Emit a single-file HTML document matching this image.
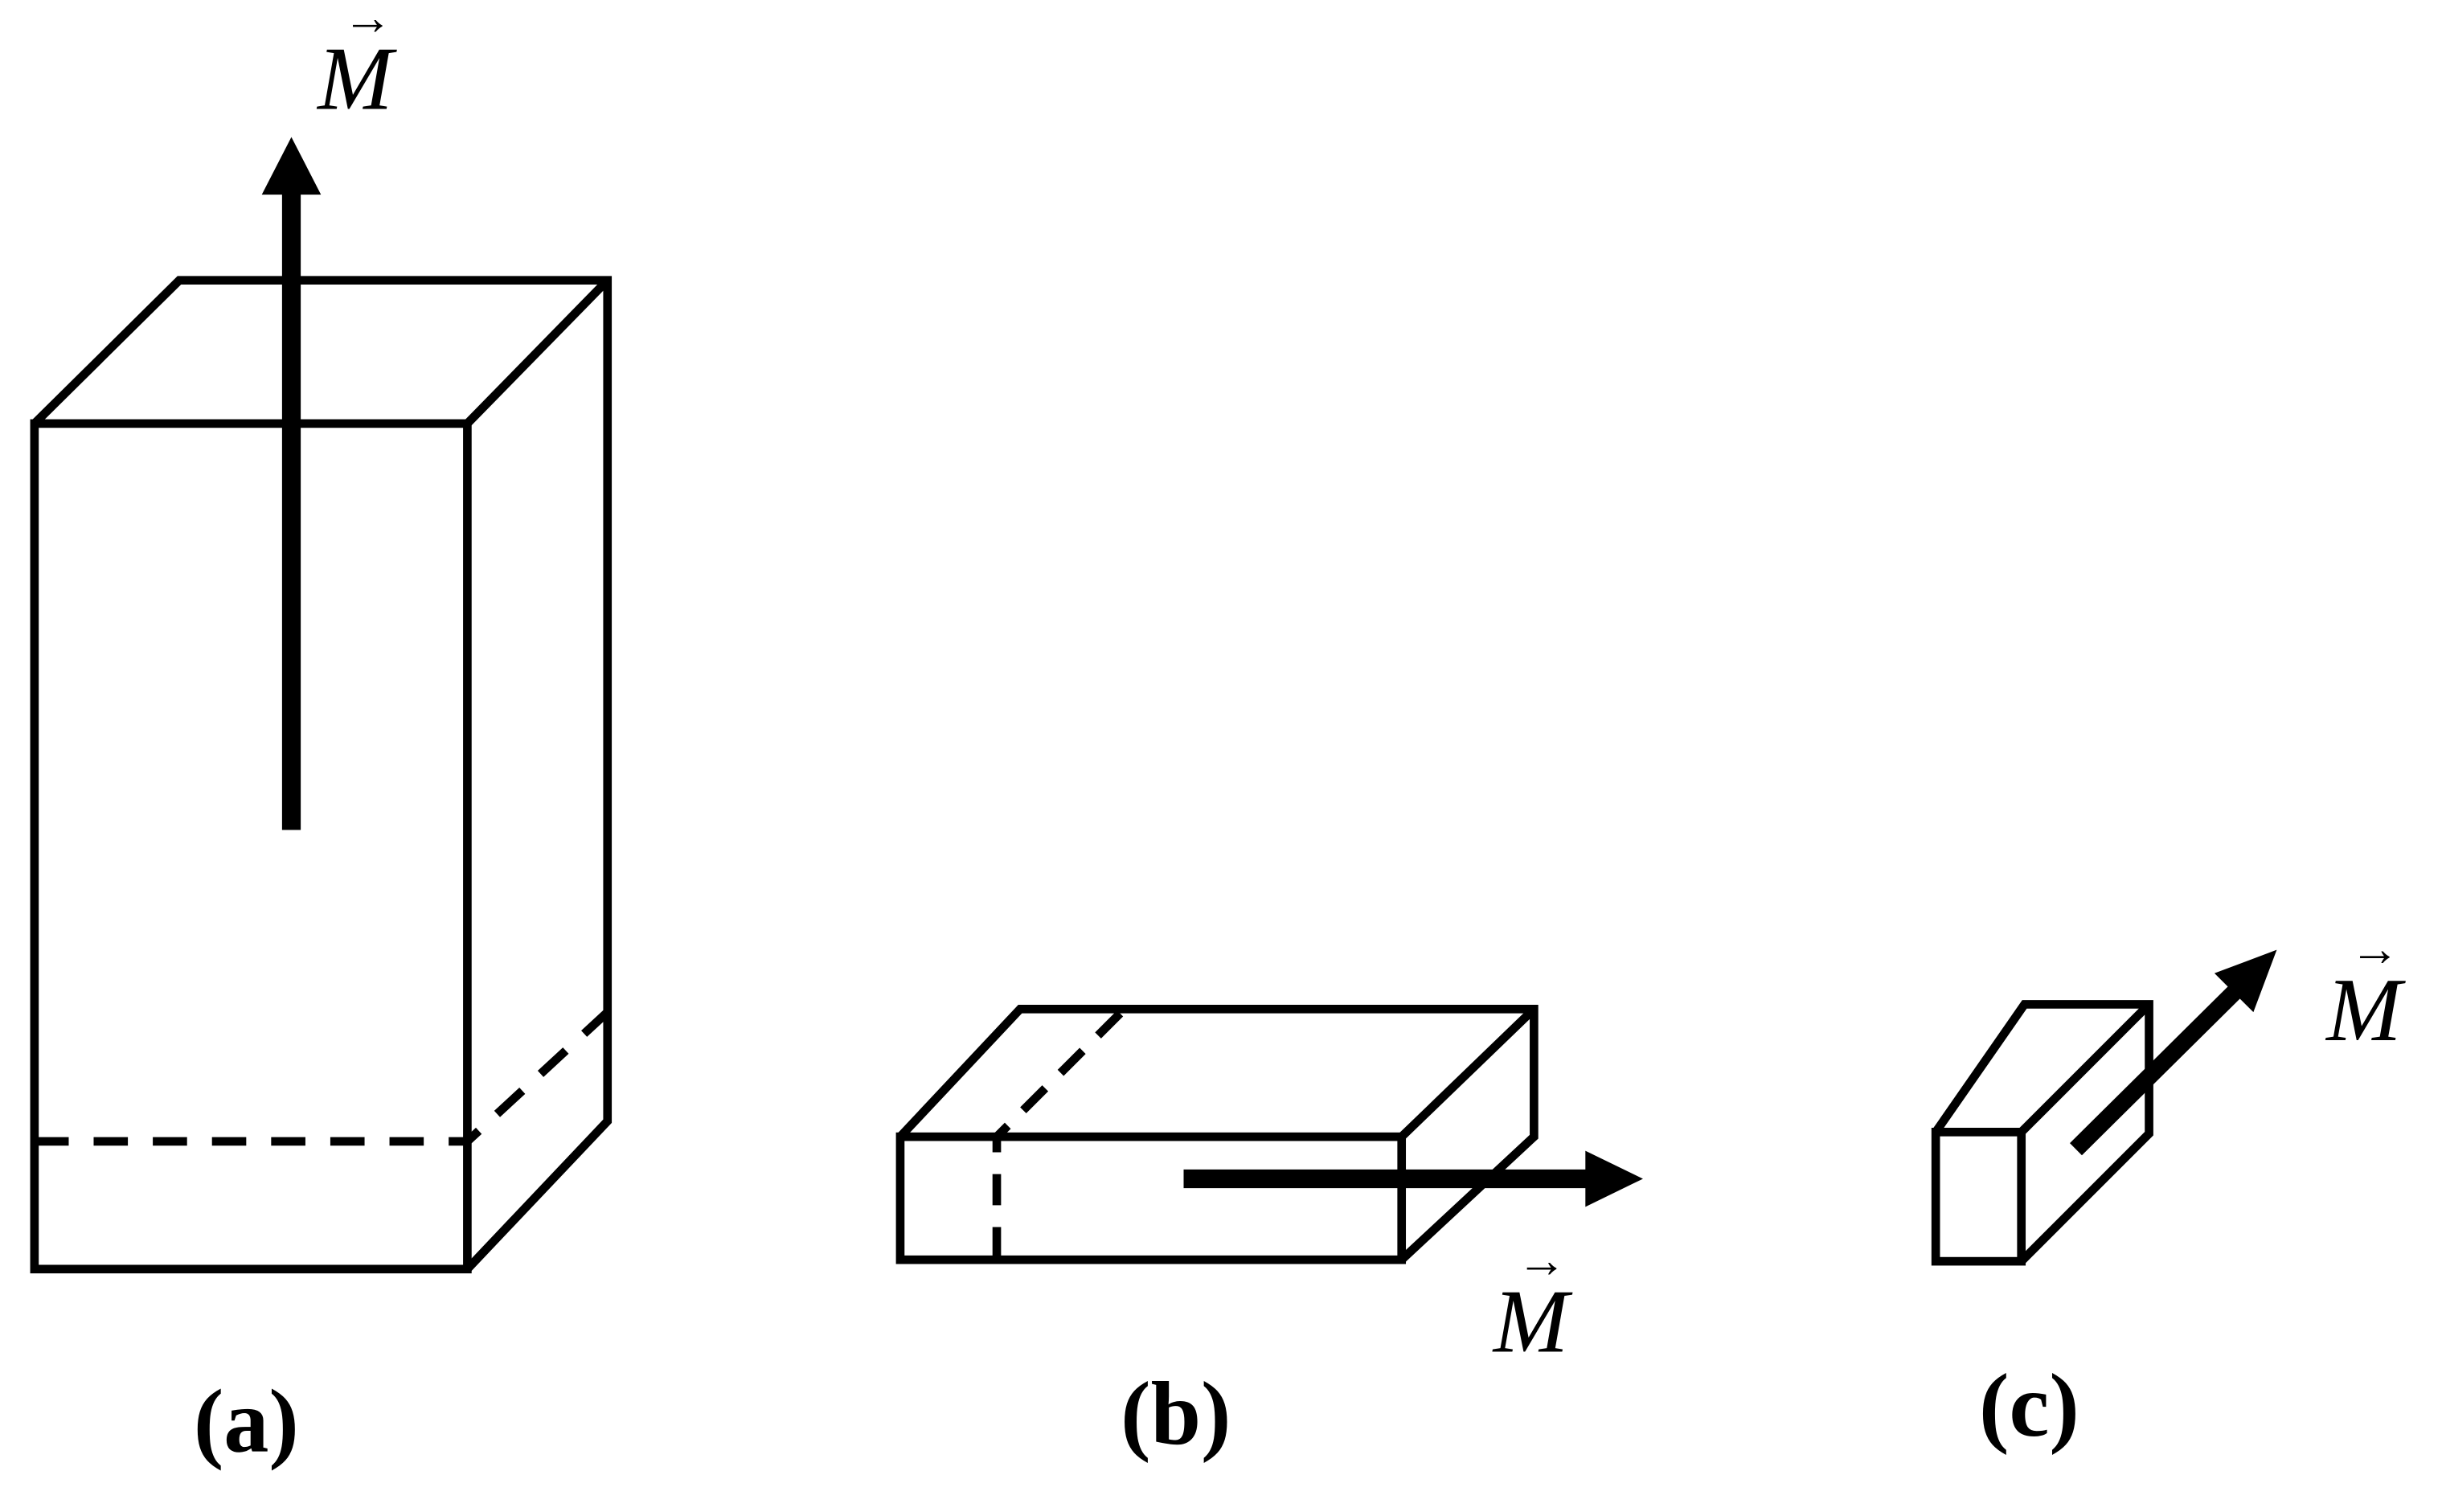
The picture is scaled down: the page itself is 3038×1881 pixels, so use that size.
<!DOCTYPE html>
<html><head><style>html,body{margin:0;padding:0;background:#fff}svg{display:block}</style></head>
<body>
<svg width="3038" height="1881" viewBox="0 0 1568 971" xmlns="http://www.w3.org/2000/svg">
<g fill="none" stroke="#000" stroke-width="5.5" stroke-linejoin="miter">
<!-- (a) -->
<rect x="22" y="272" width="278" height="543"/>
<polyline points="22,272 115,180 390,180 390,720 300,815"/>
<line x1="300" y1="272" x2="390" y2="180"/>
<polyline points="22,733 300,733 390,650" stroke-dasharray="22,16"/>
<!-- (b) -->
<rect x="578" y="730" width="322" height="79"/>
<polyline points="578,730 655,648 985,648 985,730 900,809"/>
<line x1="900" y1="730" x2="985" y2="648"/>
<polyline points="640,808 640,730 722,648" stroke-dasharray="20,14"/>
<!-- (c) -->
<rect x="1243" y="727" width="55" height="83"/>
<polyline points="1243,727 1300,645 1380,645 1380,728 1298,810"/>
<line x1="1298" y1="727" x2="1380" y2="645"/>
</g>
<line x1="187" y1="533" x2="187" y2="120" stroke="#000" stroke-width="12"/>
<polygon points="187,88 168,125 206,125" fill="#000"/>
<line x1="760" y1="757" x2="1022" y2="757" stroke="#000" stroke-width="12"/>
<polygon points="1055,757 1018,739 1018,775" fill="#000"/>
<line x1="1333" y1="738" x2="1440" y2="632" stroke="#000" stroke-width="11"/>
<polygon points="1462,610 1422,625 1447,650" fill="#000"/>
<g font-family="Liberation Serif, serif" fill="#000">
<text x="228" y="70" font-size="58" font-style="italic" text-anchor="middle">M</text>
<text x="236" y="22" font-size="32" text-anchor="middle">→</text>
<text x="983" y="868" font-size="58" font-style="italic" text-anchor="middle">M</text>
<text x="990" y="820" font-size="32" text-anchor="middle">→</text>
<text x="1518" y="668" font-size="58" font-style="italic" text-anchor="middle">M</text>
<text x="1525" y="620" font-size="32" text-anchor="middle">→</text>
<text x="158" y="932" font-size="58" font-weight="bold" text-anchor="middle">(a)</text>
<text x="755" y="927" font-size="58" font-weight="bold" text-anchor="middle">(b)</text>
<text x="1303" y="922" font-size="58" font-weight="bold" text-anchor="middle">(c)</text>
</g>
</svg>
</body></html>
